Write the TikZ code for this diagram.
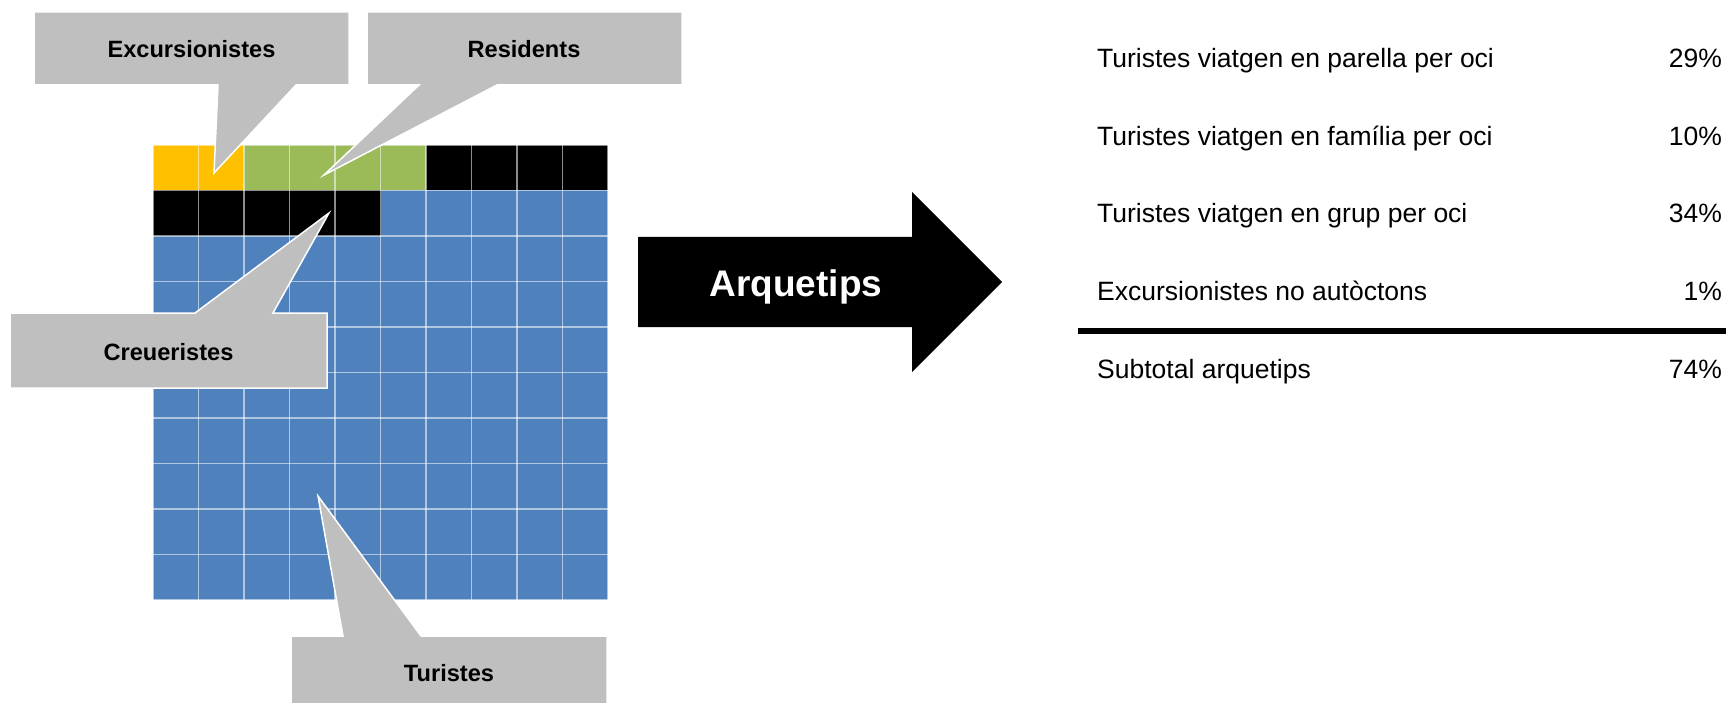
\documentclass[tikz,border=0pt]{standalone}
\usepackage{fontspec}
\setmainfont{Liberation Sans}
\definecolor{cgray}{RGB}{191,191,191}
\definecolor{corange}{RGB}{255,192,0}
\definecolor{cgreen}{RGB}{155,187,89}
\definecolor{cblue}{RGB}{79,129,189}
\begin{document}
\begin{tikzpicture}[x=1pt,y=-1pt,
  calloutshape/.style={fill=cgray, draw=white, line width=1.5pt, line join=miter},
  calltext/.style={font=\bfseries\fontsize{23.6}{28}\selectfont, anchor=base, inner sep=0pt},
  gridline/.style={draw=white, draw opacity=0.55, line width=1.1pt},
  rowtext/.style={font=\fontsize{26.5}{32}\selectfont, inner sep=0pt, anchor=base west},
  pcttext/.style={font=\fontsize{26.5}{32}\selectfont, inner sep=0pt, anchor=base east},
  arrowtext/.style={font=\bfseries\fontsize{37}{44}\selectfont, text=white, anchor=base, inner sep=0pt}]
\useasboundingbox (0,0) rectangle (1726,703);
\fill[white] (0,0) rectangle (1726,703);

% waffle grid
\fill[cblue] (153,145) rectangle (608,600);
\fill[corange] (153,145) rectangle (244,190.5);
\fill[cgreen] (244,145) rectangle (426,190.5);
\fill[black] (426,145) rectangle (608,190.5);
\fill[black] (153,190.5) rectangle (380.5,236);
\foreach \i in {0,...,10} {
  \draw[gridline] (153+\i*45.5,145) -- (153+\i*45.5,600);
  \draw[gridline] (153,145+\i*45.5) -- (608,145+\i*45.5);
}

% callouts
\draw[calloutshape] (34,12) -- (349,12) -- (349,85) -- (296,85) -- (214,173) -- (218,85) -- (34,85) -- cycle;
\draw[calloutshape] (367,12) -- (682,12) -- (682,85) -- (497,85) -- (324,175) -- (419,85) -- (367,85) -- cycle;
\draw[calloutshape] (10,313) -- (195,313) -- (329,213) -- (273,313) -- (327,313) -- (327,388) -- (10,388) -- cycle;
\draw[calloutshape] (291,636) -- (343,636) -- (318,496) -- (421,636) -- (607,636) -- (607,708) -- (291,708) -- cycle;
\node[calltext] (exc) at (191.5,57.5) {Excursionistes};
\node[calltext] (res) at (524,57.5) {Residents};
\node[calltext] (cre) at (168.5,360) {Creueristes};
\node[calltext] (tur) at (449,681.5) {Turistes};

% big arrow
\fill[black] (638,237) -- (912,237) -- (912,192) -- (1002,282) -- (912,372) -- (912,327) -- (638,327) -- cycle;
\node[arrowtext] (arq) at (796,297) {Arquetips};

% table
\node[rowtext] (r1) at (1097,68) {Turistes viatgen en parella per oci};
\node[pcttext] (p1) at (1722,68) {29\%};
\node[rowtext] (r2) at (1097,145.5) {Turistes viatgen en família per oci};
\node[pcttext] (p2) at (1722,145.5) {10\%};
\node[rowtext] (r3) at (1097,223) {Turistes viatgen en grup per oci};
\node[pcttext] (p3) at (1722,223) {34\%};
\node[rowtext] (r4) at (1097,300.5) {Excursionistes no autòctons};
\node[pcttext] (p4) at (1722,300.5) {1\%};
\draw[line width=6pt] (1078,331) -- (1726,331);
\node[rowtext] (r5) at (1097,378) {Subtotal arquetips};
\node[pcttext] (p5) at (1722,378) {74\%};
\end{tikzpicture}
\end{document}
